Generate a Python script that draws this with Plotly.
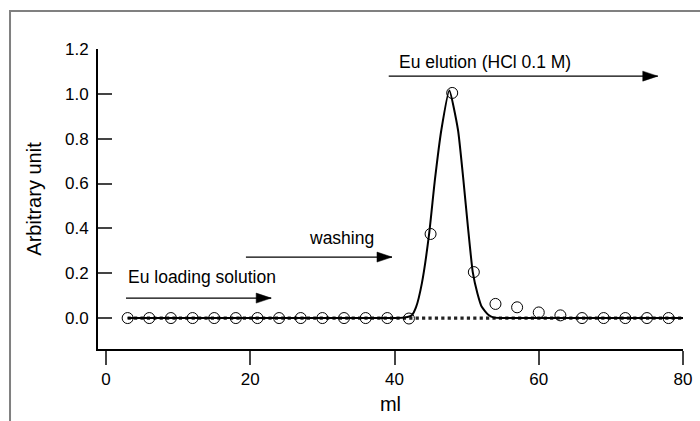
import plotly.graph_objects as go

# ---- data ----
sample_ml = [3, 6, 9, 12, 15, 18, 21, 24, 27, 30, 33, 36, 39,
             42, 45, 48, 51, 54, 57, 60, 63, 66, 69, 72, 75, 78]
sample_signal = [0.0, 0.0, 0.0, 0.0, 0.0, 0.0, 0.0, 0.0, 0.0, 0.0, 0.0, 0.0, 0.0,
                 -0.002, 0.375, 1.004, 0.205, 0.063, 0.048, 0.025, 0.012, 0.0, 0.0, 0.0, 0.0, 0.0]

fit_ml = [3, 10, 20, 30, 38, 40, 41.5, 42.4, 43.0, 43.8, 44.8, 45.6, 46.5, 47.6,
          48.8, 49.55, 50.2, 50.85, 51.5, 52.1, 53.0, 53.7, 55, 60, 70, 80]
fit_signal = [0.0, 0.0, 0.0, 0.0, 0.0, 0.0, 0.003, 0.013, 0.05, 0.156, 0.375, 0.616, 0.84, 1.015,
              0.84, 0.616, 0.4, 0.205, 0.11, 0.05, 0.015, 0.003, 0.0, 0.0, 0.0, 0.0]

baseline_ml = [3, 80]
baseline_signal = [0.0, 0.0]

x_ticks = [0, 20, 40, 60, 80]
y_ticks = [0.0, 0.2, 0.4, 0.6, 0.8, 1.0, 1.2]
y_tick_labels = ["0.0", "0.2", "0.4", "0.6", "0.8", "1.0", "1.2"]

FONT = "Liberation Sans, Arial, sans-serif"

fig = go.Figure()
fig.add_trace(go.Scatter(x=baseline_ml, y=baseline_signal, mode="lines",
                         line=dict(color="#222222", width=3.2, dash="dot"),
                         hoverinfo="skip", showlegend=False))
fig.add_trace(go.Scatter(x=fit_ml, y=fit_signal, mode="lines",
                         line=dict(color="black", width=2, shape="spline", smoothing=0.5),
                         hoverinfo="skip", showlegend=False))
fig.add_trace(go.Scatter(x=sample_ml, y=sample_signal, mode="markers",
                         marker=dict(symbol="circle-open", size=11, color="black",
                                     line=dict(width=1, color="black")),
                         showlegend=False))

# arrows (line + filled head)
arrows = [((2.77, 0.089), (22.9, 0.089)),
          ((19.4, 0.272), (39.65, 0.272)),
          ((39.2, 1.079), (76.5, 1.079))]
shapes = []
for (x0, y0), (x1, y1) in arrows:
    shapes.append(dict(type="line", xref="x", yref="y", x0=x0, y0=y0, x1=x1, y1=y1,
                       line=dict(color="black", width=1.3)))
    shapes.append(dict(type="path", xref="x", yref="y", xsizemode="pixel", ysizemode="pixel",
                       xanchor=x1, yanchor=y1, path="M0,0 L-15,5 L-15,-5 Z",
                       fillcolor="black", line=dict(color="black", width=0.5)))

# grey outer frame (partially cropped)
shapes.append(dict(type="path", xref="paper", yref="paper",
                   path="M -0.1504,-0.30 L -0.1504,1.1267 L 1.05,1.1267",
                   line=dict(color="#808080", width=2)))

annotations = [
    dict(x=2.77, y=0.183, text="Eu loading solution", xanchor="left", yanchor="middle"),
    dict(x=27.9, y=0.357, text="washing", xanchor="left", yanchor="middle"),
    dict(x=40.3, y=1.142, text="Eu elution (HCl 0.1 M)", xanchor="left", yanchor="middle"),
]
for a in annotations:
    a.update(xref="x", yref="y", showarrow=False, font=dict(family=FONT, size=17.5, color="black"))

fig.update_layout(
    width=700, height=421,
    margin=dict(l=98, r=17, t=49, b=72),
    paper_bgcolor="white", plot_bgcolor="white",
    font=dict(family=FONT, color="black"),
    shapes=shapes, annotations=annotations,
    xaxis=dict(range=[-1.11, 80], tickvals=x_ticks, ticks="outside", ticklen=14, tickwidth=2,
               showline=True, linecolor="black", linewidth=2, showgrid=False, zeroline=False,
               tickfont=dict(family=FONT, size=17), automargin=False,
               title=dict(text="ml", font=dict(family=FONT, size=20), standoff=9)),
    yaxis=dict(range=[-0.138, 1.2], tickvals=y_ticks, ticktext=y_tick_labels, ticks="inside",
               ticklen=14, tickwidth=2, showline=True, linecolor="black", linewidth=2,
               showgrid=False, zeroline=False, tickfont=dict(family=FONT, size=17),
               ticklabelstandoff=4, automargin=False,
               title=dict(text="Arbitrary unit", font=dict(family=FONT, size=20), standoff=18)),
)

fig.write_html("out.html")
